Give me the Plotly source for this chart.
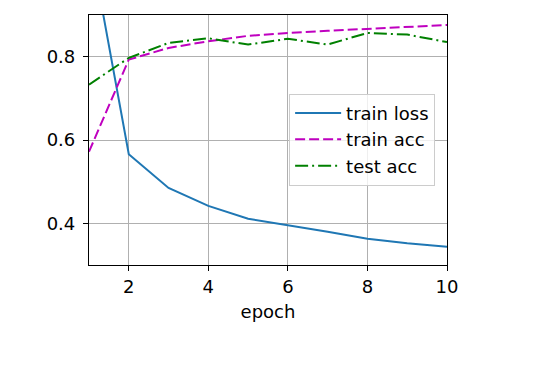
import plotly.graph_objects as go

epochs = [1, 2, 3, 4, 5, 6, 7, 8, 9, 10]
train_loss = [1.088, 0.566, 0.485, 0.442, 0.411, 0.396, 0.380, 0.363, 0.352, 0.344]
train_acc = [0.572, 0.793, 0.821, 0.837, 0.850, 0.857, 0.862, 0.867, 0.871, 0.876]
test_acc = [0.733, 0.797, 0.833, 0.844, 0.829, 0.843, 0.829, 0.857, 0.853, 0.835]
x_ticks = [2, 4, 6, 8, 10]
y_ticks = [0.4, 0.6, 0.8]

FONT = "DejaVu Sans"
FS = 18
fig = go.Figure()
fig.add_trace(go.Scatter(x=epochs, y=train_loss, mode="lines", name="train loss",
                         line=dict(color="#1f77b4", width=2)))
fig.add_trace(go.Scatter(x=epochs, y=train_acc, mode="lines", name="train acc",
                         line=dict(color="#bf00bf", width=2, dash="10px,4px")))
fig.add_trace(go.Scatter(x=epochs, y=test_acc, mode="lines", name="test acc",
                         line=dict(color="#008000", width=2, dash="13px,4px,2px,4px")))

axis_common = dict(showline=True, mirror=True, linecolor="black", linewidth=1.2,
                   showgrid=True, gridcolor="#b0b0b0", gridwidth=1,
                   ticks="outside", ticklen=5, tickwidth=1, tickcolor="black",
                   zeroline=False, tickfont=dict(family=FONT, size=FS, color="black"))
fig.update_xaxes(range=[1, 10], tickvals=x_ticks, ticktext=[str(v) for v in x_ticks],
                 title=dict(text="epoch", font=dict(family=FONT, size=FS, color="black"), standoff=9),
                 **axis_common)
fig.update_yaxes(range=[0.3, 0.9], tickvals=y_ticks, ticktext=[f"{v:.1f}" for v in y_ticks],
                 ticklabelstandoff=4, **axis_common)
fig.update_layout(
    width=532, height=363,
    margin=dict(l=81, r=93, t=7, b=106),
    plot_bgcolor="white", paper_bgcolor="white",
    font=dict(family=FONT, size=FS, color="black"),
    legend=dict(x=0.559, y=0.685, xanchor="left", yanchor="top",
                bgcolor="rgba(255,255,255,0.8)", bordercolor="#cccccc", borderwidth=1,
                font=dict(family=FONT, size=FS, color="black"), tracegroupgap=0,
                itemwidth=46),
    showlegend=True,
)
fig.write_html("out.html")
